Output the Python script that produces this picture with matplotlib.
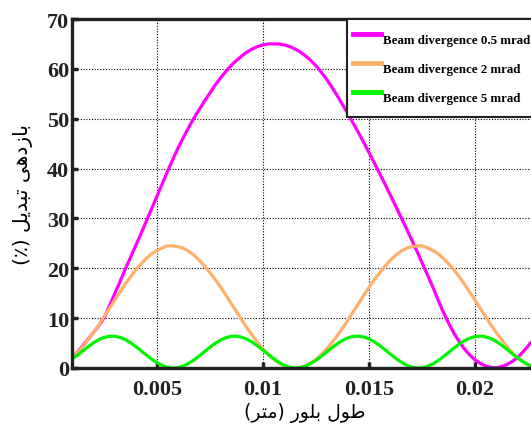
import numpy as np
import matplotlib.pyplot as plt

# crystal length (m)
x_len = [0.00100, 0.00125, 0.00150, 0.00175, 0.00200, 0.00225, 0.00250, 0.00275, 0.00300, 0.00325,
         0.00350, 0.00375, 0.00400, 0.00425, 0.00450, 0.00475, 0.00500, 0.00525, 0.00550, 0.00575,
         0.00600, 0.00625, 0.00650, 0.00675, 0.00700, 0.00725, 0.00750, 0.00775, 0.00800, 0.00825,
         0.00850, 0.00875, 0.00900, 0.00925, 0.00950, 0.00975, 0.01000, 0.01025, 0.01050, 0.01075,
         0.01100, 0.01125, 0.01150, 0.01175, 0.01200, 0.01225, 0.01250, 0.01275, 0.01300, 0.01325,
         0.01350, 0.01375, 0.01400, 0.01425, 0.01450, 0.01475, 0.01500, 0.01525, 0.01550, 0.01575,
         0.01600, 0.01625, 0.01650, 0.01675, 0.01700, 0.01725, 0.01750, 0.01775, 0.01800, 0.01825,
         0.01850, 0.01875, 0.01900, 0.01925, 0.01950, 0.01975, 0.02000, 0.02025, 0.02050, 0.02075,
         0.02100, 0.02125, 0.02150, 0.02175, 0.02200, 0.02225, 0.02250, 0.02260]

# conversion efficiency (%)
eff_05mrad = [2.0, 3.2, 4.5, 5.8, 7.1, 8.5, 10.0, 12.4, 14.9, 17.3,
              19.8, 22.2, 24.6, 27.0, 29.5, 32.0, 34.5, 37.0, 39.5, 41.9,
              44.2, 46.3, 48.3, 50.2, 51.9, 53.6, 55.2, 56.8, 58.2, 59.5,
              60.7, 61.7, 62.6, 63.4, 64.0, 64.5, 64.8, 65.0, 65.0, 65.0,
              64.8, 64.5, 64.0, 63.4, 62.6, 61.7, 60.6, 59.3, 57.9, 56.3,
              54.6, 52.8, 51.0, 49.1, 47.2, 45.2, 43.2, 41.1, 39.0, 36.9,
              34.7, 32.5, 30.3, 28.1, 25.8, 23.5, 21.1, 18.7, 16.3, 13.7,
              11.2, 9.0, 7.0, 5.3, 3.8, 2.6, 1.6, 0.9, 0.4, 0.1,
              0.05, 0.3, 0.7, 1.3, 2.1, 3.2, 4.4, 5.0]

eff_2mrad = [2.1, 3.1, 4.3, 5.7, 7.1, 8.6, 10.3, 11.9, 13.6, 15.2,
             16.8, 18.3, 19.7, 20.9, 22.0, 22.9, 23.6, 24.1, 24.5, 24.5,
             24.3, 24.0, 23.4, 22.6, 21.6, 20.4, 19.1, 17.7, 16.2, 14.6,
             12.9, 11.3, 9.6, 8.0, 6.5, 5.1, 3.8, 2.7, 1.75, 1.0,
             0.45, 0.11, 0.0, 0.11, 0.45, 1.0, 1.75, 2.7, 3.8, 5.1,
             6.5, 8.0, 9.6, 11.3, 12.9, 14.6, 16.2, 17.7, 19.1, 20.4,
             21.6, 22.6, 23.4, 24.0, 24.3, 24.5, 24.5, 24.1, 23.6, 22.9,
             22.0, 20.9, 19.7, 18.3, 16.8, 15.2, 13.6, 11.9, 10.3, 8.6,
             7.1, 5.7, 4.3, 3.1, 2.1, 1.3, 0.64, 0.45]

eff_5mrad = [1.9, 2.56, 3.43, 4.27, 5.04, 5.68, 6.13, 6.37, 6.37, 6.14,
             5.70, 5.07, 4.31, 3.46, 2.60, 1.77, 1.06, 0.50, 0.14, 0.0,
             0.10, 0.42, 0.96, 1.65, 2.46, 3.32, 4.18, 4.96, 5.61, 6.09,
             6.35, 6.38, 6.18, 5.76, 5.16, 4.40, 3.56, 2.70, 1.87, 1.14,
             0.55, 0.17, 0.0, 0.08, 0.37, 0.88, 1.56, 2.36, 3.22, 4.08,
             4.87, 5.54, 6.04, 6.33, 6.40, 6.22, 5.82, 5.24, 4.50, 3.67,
             2.80, 1.97, 1.22, 0.62, 0.20, 0.01, 0.05, 0.33, 0.81, 1.47,
             2.26, 3.11, 3.98, 4.78, 5.47, 5.99, 6.31, 6.40, 6.25, 5.88,
             5.32, 4.59, 3.77, 2.90, 2.06, 1.30, 0.68, 0.48]

series_labels = ['Beam divergence 0.5 mrad', 'Beam divergence 2 mrad', 'Beam divergence 5 mrad']
xtick_vals = [0.005, 0.01, 0.015, 0.02]
xtick_text = ['0.005', '0.01', '0.015', '0.02']
ytick_vals = [0, 10, 20, 30, 40, 50, 60, 70]

# persian labels, written in visual order with presentation forms
xlabel_fa = '(\ufeae\ufe98\ufee3) \ufead\ufeee\ufee0\ufe91 \ufedd\ufeee\ufec3'
ylabel_fa = '(\u066a) \ufede\ufef3\ufeaa\ufe92\ufe97 \ufef0\ufeeb\ufea9\ufeaf\ufe8e\ufe91'

plt.rcParams['font.family'] = ['Liberation Serif', 'DejaVu Serif']

fig = plt.figure(figsize=(5.31, 4.27), dpi=100)
ax = fig.add_axes([72/531, 58/427, 465/531, 349/427])

ax.plot(x_len, eff_05mrad, color='#ff00ff', lw=2.3, label=series_labels[0])
ax.plot(x_len, eff_2mrad, color='#ffb06a', lw=2.3, label=series_labels[1])
ax.plot(x_len, eff_5mrad, color='#00f500', lw=2.3, label=series_labels[2])

ax.set_xlim(0.00099, 0.02292)
ax.set_ylim(0, 70)
ax.set_xticks(xtick_vals)
ax.set_xticklabels(xtick_text)
ax.set_yticks(ytick_vals)

ax.grid(True, color='black', linestyle=(0, (1, 1.5)), linewidth=0.8)
for s in ['left', 'bottom', 'top', 'right']:
    ax.spines[s].set_linewidth(2.4)
    ax.spines[s].set_color('#222222')

ax.tick_params(axis='both', direction='in', length=4, width=2.5, color='#222222',
               labelsize=16, labelcolor='#222222')
ax.tick_params(axis='x', pad=8)
ax.tick_params(axis='y', pad=2)
for lab in ax.get_xticklabels() + ax.get_yticklabels():
    lab.set_fontweight('bold')

ax.set_xlabel(xlabel_fa, family=['DejaVu Sans'], fontsize=13.5, labelpad=2)
ax.set_ylabel(ylabel_fa, family=['DejaVu Sans'], fontsize=14.5, labelpad=10)

leg = ax.legend(loc='upper left', bbox_to_anchor=(347/531, 407/427),
                bbox_transform=fig.transFigure, borderaxespad=0,
                prop={'family': 'Liberation Serif', 'weight': 'bold', 'size': 9.3},
                handlelength=2.2, handleheight=2.95, handletextpad=0.12,
                labelspacing=0.1, borderpad=0.45, fancybox=False, framealpha=1)
leg.get_frame().set_edgecolor('#222222')
leg.get_frame().set_linewidth(1.5)
for line in leg.get_lines():
    line.set_linewidth(3.5)

fig.savefig('out.png', dpi=100)
